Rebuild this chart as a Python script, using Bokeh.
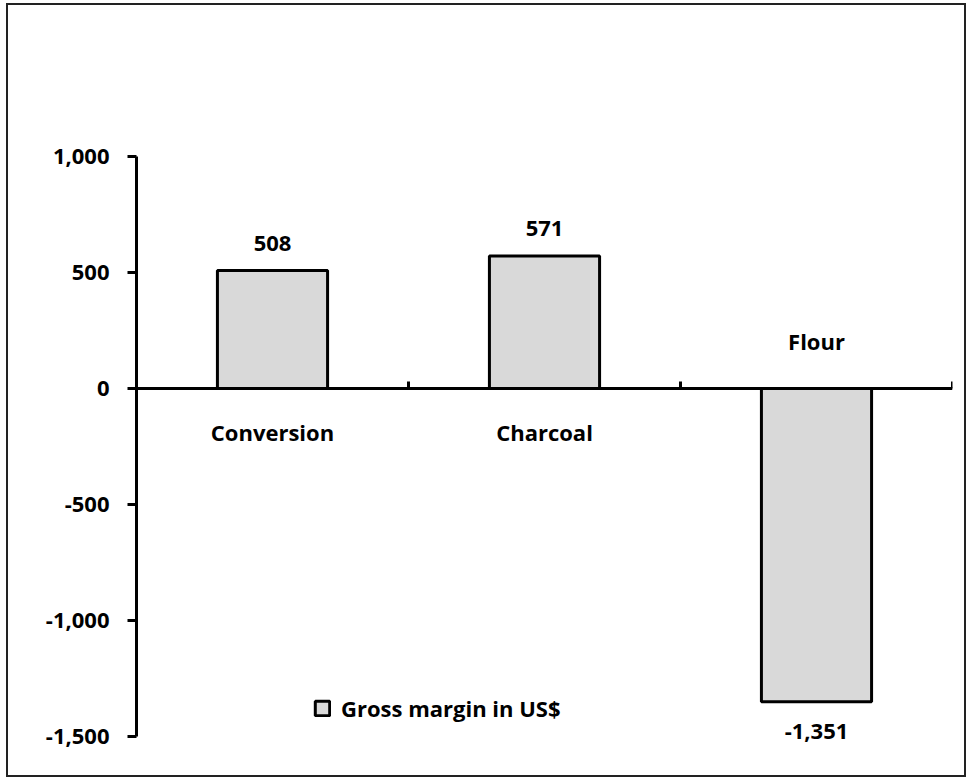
from bokeh.plotting import figure
from bokeh.models import (ColumnDataSource, Range1d, LinearAxis, FixedTicker,
                          NumeralTickFormatter, Legend, LegendItem)
from bokeh.core.properties import value
from bokeh.embed import file_html
from bokeh.resources import INLINE

# Gross margin per activity (US$)
categories = ["Conversion", "Charcoal", "Flour"]
gross_margin = [508, 571, -1351]
y_ticks = [-1500, -1000, -500, 0, 500, 1000]

FONT_NAME = "Open Sans"
FONT = value(FONT_NAME)
FS = "22px"

xs = [i + 0.5 for i in range(len(categories))]
src = ColumnDataSource(dict(
    x=xs,
    top=gross_margin,
    val_text=[f"{v:,}" for v in gross_margin],
    # value labels sit outside the bar end
    val_dy=[-27 if v >= 0 else 30 for v in gross_margin],
    cat_y=[0] * len(categories),
    cat_text=categories,
    # category names sit on the opposite side of the zero line
    cat_dy=[44 if v >= 0 else -47 for v in gross_margin],
))

# the range runs a little below the last tick so the bottom value label has room
p = figure(width=956, height=770, output_backend="svg", toolbar_location=None,
           x_range=Range1d(0, len(categories)), y_range=Range1d(-1600, 1000),
           min_border_left=128, min_border_right=12, min_border_top=151,
           min_border_bottom=16, x_axis_location=None, y_axis_location=None)
# thin frame around the whole chart
p.styles = {"margin-left": "8px", "margin-top": "5px",
            "outline": "2px solid #222222", "outline-offset": "0px"}
p.outline_line_color = None
p.xgrid.visible = False
p.ygrid.visible = False
p.background_fill_color = "white"
p.border_fill_color = "white"

bars = p.vbar(x="x", top="top", bottom=0, width=0.405, source=src,
              fill_color="#d9d9d9", line_color="black", line_width=3)

p.text(x="x", y="top", text="val_text", y_offset="val_dy", source=src,
       text_font=FONT, text_font_style="bold", text_font_size=FS,
       text_align="center", text_baseline="middle", text_color="black")
p.text(x="x", y="cat_y", text="cat_text", y_offset="cat_dy", source=src,
       text_font=FONT, text_font_style="bold", text_font_size=FS,
       text_align="center", text_baseline="middle", text_color="black")

# value axis
yaxis = LinearAxis(ticker=FixedTicker(ticks=y_ticks),
                   formatter=NumeralTickFormatter(format="0,0"),
                   bounds=(y_ticks[0], y_ticks[-1]))
yaxis.axis_line_width = 3
yaxis.major_tick_line_width = 3
yaxis.major_tick_out = 9
yaxis.major_tick_in = 0
yaxis.minor_tick_line_color = None
yaxis.major_label_standoff = 18
yaxis.major_label_text_font = FONT_NAME
yaxis.major_label_text_font_style = "bold"
yaxis.major_label_text_font_size = FS
yaxis.major_label_text_color = "black"
p.add_layout(yaxis, "left")

# category axis drawn on the zero line
xaxis = LinearAxis(ticker=FixedTicker(ticks=list(range(len(categories) + 1))),
                   fixed_location=0)
xaxis.axis_line_width = 3
xaxis.major_tick_line_width = 3
xaxis.major_tick_in = 7
xaxis.major_tick_out = 0
xaxis.minor_tick_line_color = None
xaxis.major_label_text_color = None
xaxis.major_label_text_font_size = "1px"
p.add_layout(xaxis, "below")

legend = Legend(items=[LegendItem(label="Gross margin in US$", renderers=[bars])],
                location=(177, 36), orientation="horizontal",
                glyph_width=18, glyph_height=18, label_standoff=10,
                padding=0, margin=0, border_line_color=None,
                background_fill_alpha=0,
                label_text_font=FONT_NAME, label_text_font_style="bold",
                label_text_font_size=FS, label_text_color="black")
p.add_layout(legend, "center")

open("out.html", "w").write(file_html(p, INLINE))
